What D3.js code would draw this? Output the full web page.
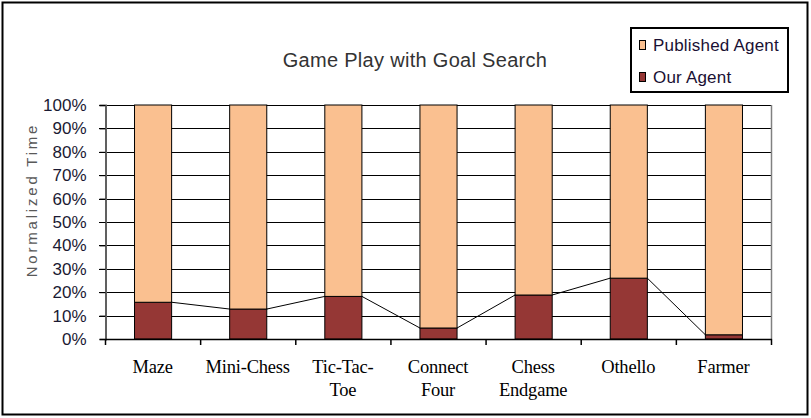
<!DOCTYPE html>
<html>
<head>
<meta charset="utf-8">
<script src="https://cdn.jsdelivr.net/npm/d3@7"></script>
<style>
  html, body { margin: 0; padding: 0; background: #fff; }
  svg { display: block; }
</style>
</head>
<body>
<svg id="chart" width="811" height="418"></svg>
<script>
const categories = [["Maze"], ["Mini-Chess"], ["Tic-Tac-", "Toe"], ["Connect", "Four"], ["Chess", "Endgame"], ["Othello"], ["Farmer"]];
const ourAgent = [15.7, 12.8, 18.2, 4.7, 18.8, 26.0, 1.8];
const publishedAgent = [84.3, 87.2, 81.8, 95.3, 81.2, 74.0, 98.2];
const yTicks = [0, 10, 20, 30, 40, 50, 60, 70, 80, 90, 100];
const seriesNames = ["Published Agent", "Our Agent"];
const colors = { published: "#FAC090", our: "#953735" };

const svg = d3.select("#chart");
const W = 811, H = 418;
const plot = { left: 105, right: 771, top: 105, bottom: 339 };
const SANS = "Arial, 'Liberation Sans', sans-serif";

// outer frame
svg.append("rect").attr("x", 2.5).attr("y", 2.5).attr("width", W - 6).attr("height", H - 6)
  .attr("fill", "#fff").attr("stroke", "#000").attr("stroke-width", 2);

const keys = categories.map((c, i) => i);
const x = d3.scaleBand().domain(keys).range([plot.left, plot.right]).paddingInner(0.61).paddingOuter(0.305);
const xOuter = d3.scaleBand().domain(keys).range([plot.left, plot.right]).padding(0);
const y = d3.scaleLinear().domain([0, 100]).range([plot.bottom, plot.top]);

// gridlines
svg.append("g").selectAll("line").data(yTicks.filter(t => t > 0)).join("line")
  .attr("x1", plot.left - 6).attr("x2", plot.right)
  .attr("y1", d => Math.round(y(d)) + 0.5).attr("y2", d => Math.round(y(d)) + 0.5)
  .attr("stroke", "#000").attr("stroke-width", 1);

// right border of plot
svg.append("line").attr("x1", plot.right + 0.5).attr("x2", plot.right + 0.5)
  .attr("y1", plot.top).attr("y2", plot.bottom).attr("stroke", "#808080").attr("stroke-width", 1.5);

// stacked bars
const stackData = keys.map(i => ({ i, our: ourAgent[i], pub: publishedAgent[i] }));
const stack = d3.stack().keys(["our", "pub"])(stackData);
const fills = [colors.our, colors.published];
stack.forEach((layer, li) => {
  svg.append("g").selectAll("rect").data(layer).join("rect")
    .attr("x", d => x(d.data.i) + 0.5)
    .attr("y", d => y(d[1]))
    .attr("width", x.bandwidth())
    .attr("height", d => y(d[0]) - y(d[1]))
    .attr("fill", fills[li]).attr("stroke", "#000").attr("stroke-width", 1);
});

// series lines
const pts = [];
keys.forEach(i => {
  if (i > 0) pts.push([x(i) + 0.5, y(ourAgent[i])]);
  if (i < keys.length - 1) pts.push([x(i) + x.bandwidth() + 0.5, y(ourAgent[i])]);
});
for (let k = 0; k < pts.length; k += 2) {
  svg.append("path").attr("d", d3.line()([pts[k], pts[k + 1]]))
    .attr("stroke", "#000").attr("stroke-width", 1).attr("fill", "none");
}

// y axis
const yAxis = d3.axisLeft(y).tickValues(yTicks).tickFormat(d => d + "%").tickSize(6).tickPadding(13);
const gy = svg.append("g").attr("transform", `translate(${plot.left + 0.5},0)`).call(yAxis);
gy.select(".domain").attr("stroke", "#606060").attr("stroke-width", 2);
gy.selectAll(".tick line").attr("stroke", "#000");
gy.selectAll(".tick text").attr("font-family", SANS).attr("font-size", 17)
  .attr("fill", "#1a1a33");

// x axis line and ticks
svg.append("line").attr("x1", plot.left).attr("x2", plot.right + 1)
  .attr("y1", plot.bottom + 0.5).attr("y2", plot.bottom + 0.5).attr("stroke", "#000").attr("stroke-width", 1.5);
const bounds = keys.map(i => xOuter(i)).concat([plot.right]);
svg.append("g").selectAll("line").data(bounds).join("line")
  .attr("x1", d => d + 0.5).attr("x2", d => d + 0.5)
  .attr("y1", plot.bottom).attr("y2", plot.bottom + 6)
  .attr("stroke", "#000").attr("stroke-width", 1.5);

// x labels
const xl = svg.append("g").selectAll("text").data(keys).join("text")
  .attr("x", i => xOuter(i) + xOuter.bandwidth() / 2)
  .attr("y", 373)
  .attr("text-anchor", "middle")
  .attr("font-family", "'Liberation Serif', 'Times New Roman', serif")
  .attr("font-size", 18.5).attr("letter-spacing", -0.2).attr("fill", "#000");
xl.each(function(i) {
  const t = d3.select(this);
  categories[i].forEach((line, li) => {
    t.append("tspan").attr("x", xOuter(i) + xOuter.bandwidth() / 2).attr("dy", li === 0 ? 0 : 23).text(line);
  });
});

// y axis title
svg.append("text").attr("transform", `translate(37,200) rotate(-90)`)
  .attr("text-anchor", "middle").attr("font-family", SANS)
  .attr("font-size", 15).attr("fill", "#595959").attr("letter-spacing", 2.8).text("Normalized Time");

// title
svg.append("text").attr("x", 415).attr("y", 67).attr("text-anchor", "middle")
  .attr("font-family", SANS).attr("font-size", 20)
  .attr("fill", "#333").attr("letter-spacing", 0.3).text("Game Play with Goal Search");

// legend
const lg = svg.append("g");
lg.append("rect").attr("x", 631).attr("y", 28).attr("width", 157).attr("height", 64)
  .attr("fill", "#fff").attr("stroke", "#000").attr("stroke-width", 2);
const legendItems = [{ name: seriesNames[0], color: colors.published, cy: 45 },
                     { name: seriesNames[1], color: colors.our, cy: 77 }];
legendItems.forEach(it => {
  lg.append("rect").attr("x", 639.5).attr("y", it.cy - 4.5).attr("width", 6).attr("height", 9)
    .attr("fill", it.color).attr("stroke", "#000").attr("stroke-width", 1);
  lg.append("text").attr("x", 653).attr("y", it.cy + 6)
    .attr("font-family", SANS).attr("font-size", 17)
    .attr("fill", "#1a1033").attr("letter-spacing", 0.2).text(it.name);
});
</script>
</body>
</html>
